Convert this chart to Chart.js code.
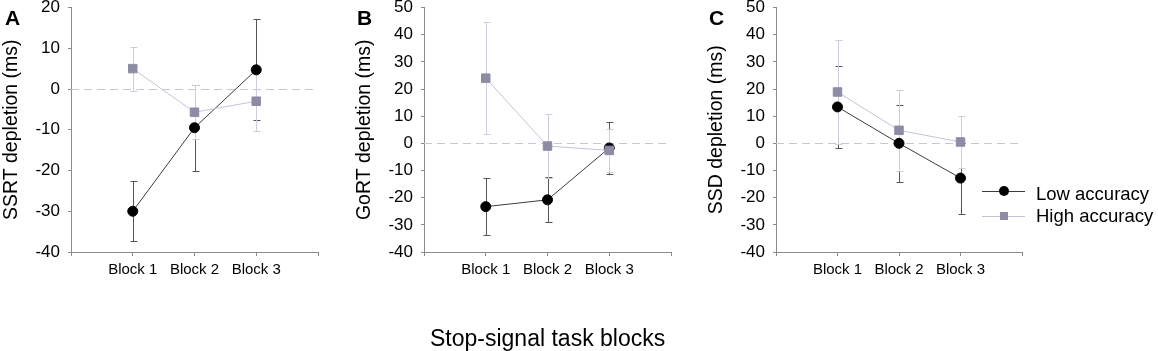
<!DOCTYPE html>
<html>
<head>
<meta charset="utf-8">
<script src="https://cdn.jsdelivr.net/npm/chart.js@4.4.1/dist/chart.umd.min.js"></script>
<style>
html,body{margin:0;padding:0;background:#fff;width:1158px;height:351px;overflow:hidden;font-family:'Liberation Sans',Arial,sans-serif;}
.layer{position:absolute;left:0;top:-9px;width:1158px;height:360px;}
.letter{position:absolute;font-weight:bold;font-size:21px;line-height:21px;color:#000;}
.xlab{position:absolute;font-size:23px;line-height:23px;color:#000;white-space:nowrap;}
.legtext{position:absolute;font-size:18.5px;line-height:18.5px;color:#000;white-space:nowrap;}
.legline{position:absolute;height:1px;}
</style>
</head>
<body>
<div class="layer"><canvas id="cA"></canvas></div>
<div class="layer"><canvas id="cB"></canvas></div>
<div class="layer"><canvas id="cC"></canvas></div>

<div class="letter" style="left:5px;top:7px;">A</div>
<div class="letter" style="left:357px;top:7px;">B</div>
<div class="letter" style="left:709px;top:7px;">C</div>

<div class="xlab" style="left:430px;top:327px;">Stop-signal task blocks</div>

<!-- legend -->
<div class="legline" style="left:982px;top:191px;width:43px;background:#3c3c3c;"></div>
<div style="position:absolute;left:999px;top:186px;width:10px;height:10px;border-radius:50%;background:#000;"></div>
<div class="legtext" style="left:1036px;top:185px;">Low accuracy</div>
<div class="legline" style="left:982px;top:216px;width:43px;background:#c3c3d6;"></div>
<div style="position:absolute;left:1000px;top:212px;width:8px;height:8px;background:#8c8ca6;"></div>
<div class="legtext" style="left:1036px;top:207px;">High accuracy</div>

<script>
// ---- data ----
const categories = ['Block 1', 'Block 2', 'Block 3'];
const xSlots = [' ', ...categories, '  '];

const ssrtLow = [-30, -9.5, 4.7];
const ssrtLowErr = [7.4, 10.5, 12.4];
const ssrtHigh = [5, -5.7, -3];
const ssrtHighErr = [5.4, 6.6, 7.3];

const gortLow = [-23.3, -20.8, -1.7];
const gortLowErr = [10.5, 8.3, 9.6];
const gortHigh = [24, -1, -2.6];
const gortHighErr = [20.6, 11.8, 8];

const ssdLow = [13.4, 0, -12.8];
const ssdLowErr = [15, 14.2, 13.1];
const ssdHigh = [18.9, 4.8, 0.5];
const ssdHighErr = [19.3, 14.8, 9.4];

const yRangeA = [-40, 20];
const yRangeBC = [-40, 50];
const yStep = 10;

// ---- plugins ----
const zeroLine = {
  id: 'zeroLine',
  beforeDatasetsDraw(chart) {
    const {ctx, chartArea} = chart;
    const y = Math.round(chart.scales.y.getPixelForValue(0)) + 0.5;
    ctx.save();
    ctx.strokeStyle = '#c8c8d2';
    ctx.lineWidth = 1;
    ctx.setLineDash([8, 5]);
    ctx.beginPath();
    ctx.moveTo(chartArea.left, y);
    ctx.lineTo(chartArea.right, y);
    ctx.stroke();
    ctx.restore();
  }
};

const errorBars = {
  id: 'errorBars',
  beforeDatasetsDraw(chart) {
    const {ctx} = chart;
    const ys = chart.scales.y;
    chart.data.datasets.forEach((ds, i) => {
      const meta = chart.getDatasetMeta(i);
      ctx.save();
      ctx.strokeStyle = ds.errColor;
      ctx.lineWidth = 1;
      meta.data.forEach((pt, j) => {
        const v = ds.data[j].y, e = ds.errors[j];
        const x = Math.round(pt.x) + 0.5;
        const yt = Math.round(ys.getPixelForValue(v + e)) + 0.5;
        const yb = Math.round(ys.getPixelForValue(v - e)) + 0.5;
        ctx.beginPath();
        ctx.moveTo(x, yt); ctx.lineTo(x, yb);
        ctx.moveTo(x - 3, yt); ctx.lineTo(x + 4, yt);
        ctx.moveTo(x - 3, yb); ctx.lineTo(x + 4, yb);
        ctx.stroke();
      });
      ctx.restore();
    });
  }
};

function pts(vals) {
  return vals.map((v, i) => ({x: categories[i], y: v}));
}

function makePanel(id, padLeft, padRight, yRange, title, low, lowErr, high, highErr) {
  new Chart(document.getElementById(id), {
    type: 'line',
    data: {
      labels: xSlots,
      datasets: [
        {
          label: 'Low accuracy',
          data: pts(low), errors: lowErr, errColor: '#555555',
          borderColor: '#3c3c3c', borderWidth: 1,
          pointStyle: 'circle', pointRadius: 5,
          pointBackgroundColor: '#000', pointBorderColor: '#000', pointBorderWidth: 1,
          tension: 0, order: 1
        },
        {
          label: 'High accuracy',
          data: pts(high), errors: highErr, errColor: '#cdcddc',
          borderColor: '#c3c3d6', borderWidth: 1,
          pointStyle: 'rect', pointRadius: 6,
          pointBackgroundColor: '#8c8ca6', pointBorderColor: '#8c8ca6', pointBorderWidth: 1,
          tension: 0, order: 0
        }
      ]
    },
    options: {
      responsive: true,
      maintainAspectRatio: false,
      animation: false,
      devicePixelRatio: 1,
      events: [],
      layout: {padding: {left: padLeft, right: padRight, top: 8, bottom: 0}},
      plugins: {legend: {display: false}, tooltip: {enabled: false}},
      scales: {
        x: {
          type: 'category',
          offset: false,
          afterFit(s) { s.height = 99; },
          grid: {drawOnChartArea: false, tickLength: 4, color: '#8a8a8a', tickColor: '#8a8a8a'},
          border: {color: '#8a8a8a', width: 1},
          ticks: {color: '#000', font: {family: 'Liberation Sans', size: 15}, padding: 5, maxRotation: 0, autoSkip: false}
        },
        y: {
          min: yRange[0], max: yRange[1],
          afterFit(s) { s.width = 71; },
          grid: {drawOnChartArea: false, tickLength: 3, color: '#8a8a8a', tickColor: '#8a8a8a'},
          border: {color: '#8a8a8a', width: 1},
          ticks: {stepSize: yStep, color: '#000', font: {family: 'Liberation Sans', size: 17, lineHeight: 1}, padding: 8},
          title: {display: true, text: title, color: '#000', font: {family: 'Liberation Sans', size: 19.5, lineHeight: 1.2}, padding: {top: 0, bottom: 0}}
        }
      }
    },
    plugins: [zeroLine, errorBars]
  });
}

makePanel('cA', 0, 840, yRangeA, 'SSRT depletion (ms)', ssrtLow, ssrtLowErr, ssrtHigh, ssrtHighErr);
makePanel('cB', 353, 487, yRangeBC, 'GoRT depletion (ms)', gortLow, gortLowErr, gortHigh, gortHighErr);
makePanel('cC', 705, 136, yRangeBC, 'SSD depletion (ms)', ssdLow, ssdLowErr, ssdHigh, ssdHighErr);
</script>
</body>
</html>
